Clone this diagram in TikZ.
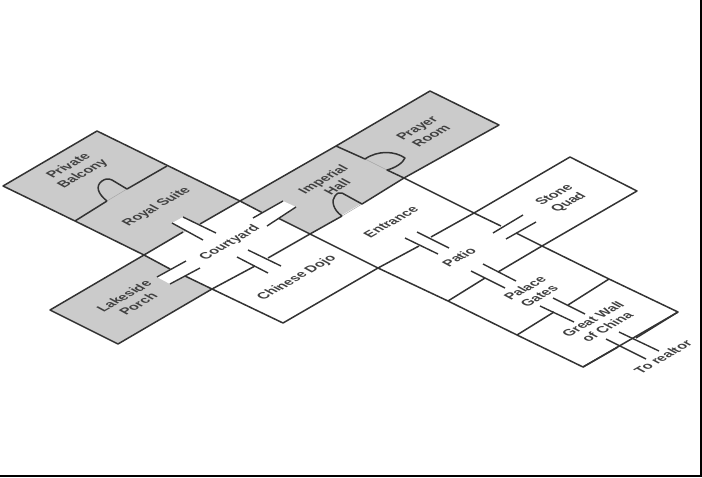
\documentclass[tikz,border=0pt]{standalone}
\usepackage{fontspec}
\setmainfont{Liberation Sans}
\begin{document}
\begin{tikzpicture}[x=1pt, y=-1pt]
        \tikzstyle{room} = [fill=roomgray, draw=none]
        \tikzstyle{wall} = [draw=wallgray, line width=1.5pt, line join=round]
        \tikzstyle{sill} = [draw=gray!70, line width=0.5pt]
        \tikzstyle{jamb} = [draw=wallgray, line width=1.4pt]
        \tikzstyle{gap} = [fill=white, draw=none]
        \tikzstyle{label} = [align=center, inner sep=0pt, text=black!75, cm={1.15,0.66,-1.18,0.64,(0,0)}, font=\fontsize{10}{12}\selectfont\bfseries]
        \definecolor{roomgray}{HTML}{CBCBCB}
        \definecolor{wallgray}{HTML}{333333}
        \useasboundingbox (0,0) rectangle (702,477);

        % frame on two sides only
        \fill [black] (700,0) rectangle (702,477);
        \fill [black] (0,475) rectangle (702,477);

        \coordinate (balconyW) at (3,186);
        \coordinate (balconyN) at (97,131);
        \coordinate (balconyE) at (167,166);
        \coordinate (balconyS) at (75,221);
        \coordinate (suiteE) at (240,201);
        \coordinate (suiteS) at (144,255);
        \coordinate (porchW) at (50,310);
        \coordinate (porchS) at (118,344);
        \coordinate (porchE) at (212,289);
        \coordinate (dojoS) at (283,323);
        \coordinate (dojoE) at (378,268);
        \coordinate (hallS) at (310,234);
        \coordinate (hallN) at (336,146);
        \coordinate (prayerN) at (430,91);
        \coordinate (prayerE) at (499,125);
        \coordinate (prayerS) at (404,178);
        \coordinate (quadW) at (474,213);
        \coordinate (quadN) at (570,157);
        \coordinate (quadE) at (637,191);
        \coordinate (quadS) at (542,246);
        \coordinate (gatesE) at (609,279);
        \coordinate (gatesW) at (448,301);
        \coordinate (wallE) at (678,312);
        \coordinate (wallS) at (583,367);
        \coordinate (wallW) at (517,335);

        % grey rooms
        \path [room] (balconyW) -- (balconyN) -- (suiteE) -- (suiteS) -- cycle;
        \path [room] (suiteS) -- (porchW) -- (porchS) -- (porchE) -- cycle;
        \path [room] (suiteE) -- (hallN) -- (prayerN) -- (prayerE) -- (prayerS) -- (hallS) -- cycle;

        % sills under the arches
        \draw [sill] (107,201) -- (127,189);
        \draw [sill] (342,216) -- (362,204);
        \draw [sill] (365,159) -- (387,170);

        % outer walls
        \draw [wall] (balconyS) -- (balconyW) -- (balconyN) -- (suiteE);
        \draw [wall] (balconyS) -- (suiteS) -- (porchW) -- (porchS) -- (porchE) -- (dojoS) -- (dojoE) -- (gatesW) -- (wallW) -- (wallS) -- (wallE) -- (gatesE) -- (quadS);
        \draw [wall] (suiteS) -- (170,269);
        \draw [wall] (185,276) -- (porchE);
        \draw [wall] (porchE) -- (255,266);
        \draw [wall] (268,258) -- (hallS) -- (342,216);
        \draw [wall] (suiteS) -- (183,232);
        \draw [wall] (200,224) -- (suiteE) -- (263,213);
        \draw [wall] (278,218) -- (hallS);
        \draw [wall] (suiteE) -- (hallN) -- (prayerN) -- (prayerE) -- (prayerS) -- (362,204) -- (342,193);
        \draw [wall] (balconyS) -- (107,201);
        \draw [wall] (127,189) -- (balconyE);
        \draw [wall] (hallS) -- (dojoE);
        \draw [wall] (prayerS) -- (quadW) -- (501,226);
        \draw [wall] (516,233) -- (quadS) -- (quadE) -- (quadN) -- (quadW) -- (431,237);
        \draw [wall] (419,246) -- (dojoE);
        \draw [wall] (quadS) -- (498,272);
        \draw [wall] (485,278) -- (gatesW);
        \draw [wall] (gatesE) -- (568,305);
        \draw [wall] (554,312) -- (wallW);
        \draw [wall] (wallE) -- (636,338);
        \draw [wall] (618,347) -- (wallS);

        % arches
        \draw [wall] (107,201) .. controls (98,194) and (95,186) .. (102,181) .. controls (105,179) and (108,178) .. (112,180) -- (127,189);
        \draw [wall] (342,216) .. controls (333,210) and (331,200) .. (335,196) .. controls (337,193) and (340,192) .. (342,193);
        \draw [wall] (hallN) -- (365,159) .. controls (378,150) and (395,151) .. (405,158) .. controls (403,163) and (395,168) .. (387,170) -- (prayerS);

        % passages through the walls
        \path [gap] (172,223) -- (183,217) -- (216,233) -- (203,240) -- cycle;
        \path [gap] (253,218) -- (283,201) -- (296,207) -- (267,226) -- cycle;
        \path [gap] (157,277) -- (186,261) -- (200,268) -- (170,284) -- cycle;

        \draw [jamb] (172,223) -- (203,240);
        \draw [jamb] (183,217) -- (216,233);
        \draw [jamb] (253,218) -- (283,201);
        \draw [jamb] (267,226) -- (296,207);
        \draw [jamb] (248,250) -- (281,266);
        \draw [jamb] (237,257) -- (268,273);
        \draw [jamb] (157,277) -- (186,261);
        \draw [jamb] (170,284) -- (200,268);
        \draw [jamb] (417,232) -- (449,248);
        \draw [jamb] (405,238) -- (438,254);
        \draw [jamb] (493,233) -- (523,215);
        \draw [jamb] (506,239) -- (536,222);
        \draw [jamb] (483,264) -- (516,281);
        \draw [jamb] (471,271) -- (505,288);
        \draw [jamb] (553,298) -- (585,314);
        \draw [jamb] (540,306) -- (574,322);
        \draw [jamb] (619,332) -- (659,351);
        \draw [jamb] (606,339) -- (646,359);

        % room names
        \node [label] (balcony) at (76,170) {Private\\Balcony};
        \node [label] (suite) at (157,207) {Royal Suite};
        \node [label] (courtyard) at (230,243) {Courtyard};
        \node [label] (porch) at (131,300) {Lakeside\\Porch};
        \node [label] (dojo) at (297,278) {Chinese Dojo};
        \node [label] (hall) at (330,183) {Imperial\\Hall};
        \node [label] (prayer) at (424,132) {Prayer\\Room};
        \node [label] (entrance) at (391,222) {Entrance};
        \node [label] (patio) at (459,257) {Patio};
        \node [label] (quad) at (562,199) {Stone\\Quad};
        \node [label] (gates) at (532,292) {Palace\\Gates};
        \node [label] (china) at (600,323) {Great Wall\\of China};
        \node [label] (realtor) at (663,357) {To realtor};
    \end{tikzpicture}
\end{document}
